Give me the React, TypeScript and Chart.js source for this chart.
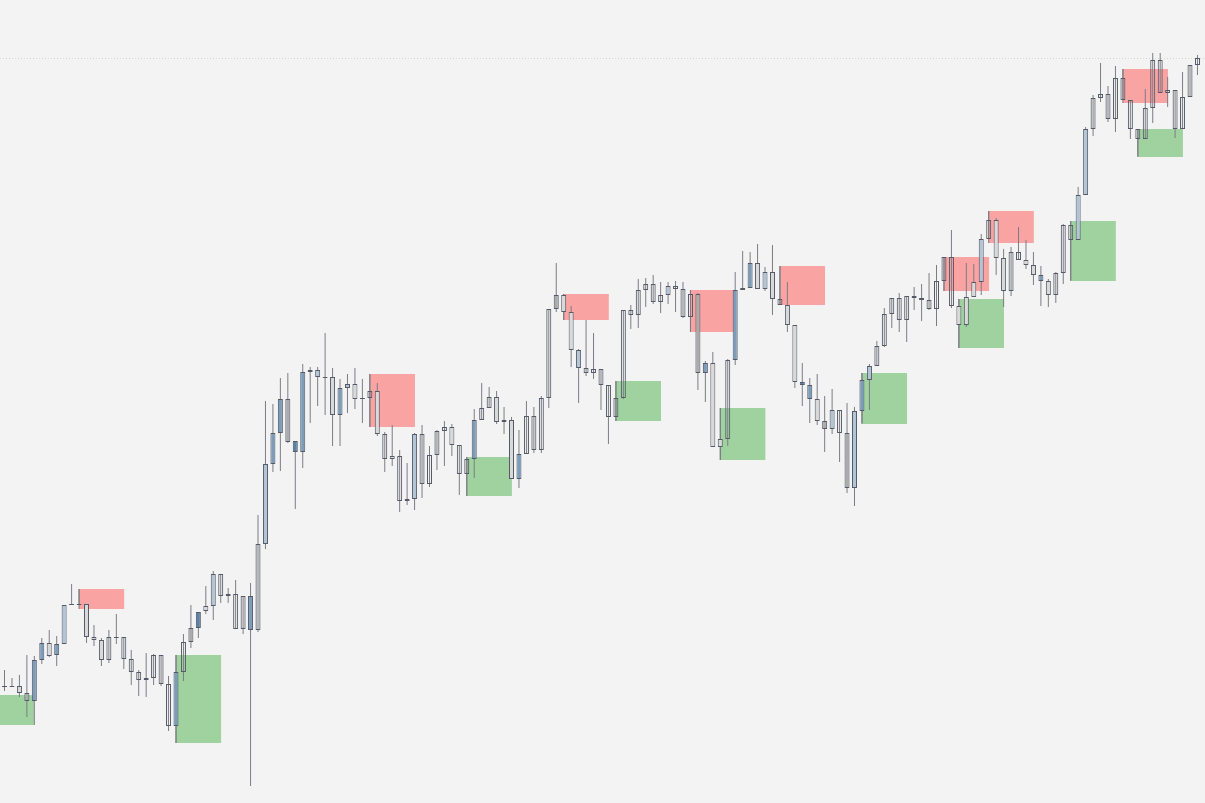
import React, { useEffect, useRef } from "react";
import { Chart, registerables } from "chart.js";

Chart.register(...registerables);

// ---- data (price units) ----
const openPrices = [
  116, 116, 117, 110, 143, 160, 160, 159, 198, 199,
  199, 199, 166, 163, 143, 165, 144, 131, 123, 123,
  125, 119, 77, 131, 131, 175, 191, 197, 229, 207,
  207, 174, 174, 207, 173, 339, 370, 404, 404, 362,
  431, 433, 433, 425, 426, 415, 419, 419, 404, 405,
  412, 344, 347, 302, 304, 369, 319, 319, 348, 372,
  376, 329, 329, 383, 383, 395, 406, 381, 383, 349,
  349, 353, 353, 405, 508, 508, 491, 453, 430, 430,
  418, 386, 386, 405, 488, 488, 513, 501, 501, 517,
  514, 486, 486, 509, 440, 440, 364, 364, 513, 515,
  540, 540, 531, 531, 498, 498, 478, 421, 418, 404,
  382, 393, 370, 370, 392, 423, 437, 437, 457, 489,
  483, 483, 505, 503, 494, 494, 522, 497, 497, 506,
  521, 564, 564, 583, 545, 512, 543, 543, 538, 528,
  522, 508, 530, 563, 608, 674, 674, 705, 684, 684,
  703, 674, 664, 664, 695, 710, 710, 674, 674, 706,
  738,
];
const closePrices = [
  117, 117, 110, 102, 102, 143, 147, 148, 159, 198,
  198, 166, 163, 143, 166, 166, 166, 144, 131, 125,
  148, 148, 119, 77, 161, 161, 175, 192, 197, 229,
  209, 209, 207, 173, 259, 259, 339, 370, 361, 351,
  351, 431, 426, 426, 388, 388, 415, 404, 405, 412,
  369, 369, 344, 347, 302, 304, 369, 348, 372, 376,
  358, 358, 344, 344, 395, 406, 381, 383, 324, 324,
  387, 387, 405, 494, 494, 491, 453, 435, 435, 434,
  434, 418, 405, 493, 493, 513, 519, 519, 508, 508,
  517, 514, 509, 430, 430, 356, 356, 443, 443, 513,
  515, 514, 514, 504, 504, 478, 421, 418, 404, 382,
  374, 374, 393, 315, 315, 392, 423, 457, 489, 505,
  505, 507, 507, 505, 503, 522, 546, 546, 478, 478,
  506, 521, 583, 545, 512, 551, 551, 538, 528, 522,
  508, 530, 578, 578, 563, 608, 705, 709, 709, 725,
  725, 703, 674, 695, 743, 743, 713, 713, 706, 738,
  745,
];
const highPrices = [
  133, 125, 128, 148, 147, 165, 173, 167, 198, 219,
  214, 199, 178, 165, 173, 189, 166, 153, 133, 150,
  149, 148, 127, 148, 169, 198, 191, 217, 232, 229,
  215, 223, 207, 220, 288, 402, 399, 425, 430, 362,
  439, 436, 436, 470, 435, 424, 429, 435, 424, 429,
  420, 371, 378, 353, 340, 370, 378, 357, 373, 382,
  379, 358, 346, 394, 420, 416, 412, 396, 386, 373,
  402, 396, 407, 494, 540, 509, 497, 454, 483, 470,
  434, 418, 422, 493, 498, 524, 525, 528, 521, 521,
  522, 521, 513, 510, 442, 451, 395, 444, 531, 552,
  551, 559, 536, 558, 537, 521, 478, 440, 425, 429,
  407, 414, 393, 400, 396, 430, 439, 462, 495, 505,
  510, 507, 516, 519, 530, 538, 546, 573, 504, 540,
  539, 569, 592, 585, 554, 556, 576, 563, 551, 537,
  524, 531, 579, 582, 616, 676, 708, 740, 717, 737,
  734, 703, 674, 714, 750, 750, 726, 713, 731, 738,
  748,
];
const lowPrices = [
  112, 116, 106, 86, 78, 139, 146, 137, 159, 198,
  198, 160, 157, 137, 140, 159, 134, 118, 107, 106,
  118, 117, 72, 60, 122, 155, 165, 189, 183, 200,
  200, 174, 169, 17, 171, 254, 331, 332, 360, 294,
  335, 380, 397, 388, 357, 357, 390, 394, 380, 376,
  367, 331, 337, 291, 298, 293, 305, 316, 333, 337,
  347, 308, 307, 325, 383, 395, 379, 369, 324, 315,
  349, 350, 350, 395, 491, 483, 436, 400, 427, 424,
  393, 359, 382, 404, 474, 475, 496, 499, 490, 499,
  491, 485, 472, 413, 401, 356, 343, 357, 438, 513,
  515, 514, 512, 488, 498, 471, 415, 397, 380, 378,
  351, 369, 341, 310, 297, 380, 393, 437, 456, 475,
  471, 461, 493, 482, 493, 477, 512, 495, 455, 476,
  506, 508, 564, 528, 496, 507, 543, 534, 518, 497,
  496, 500, 519, 523, 563, 608, 667, 701, 681, 671,
  703, 664, 647, 664, 680, 710, 696, 665, 674, 706,
  728,
];
// body shade per candle: W hollow, L light grey, G grey, B steel blue, D dark blue, P pale blue
const bodyShade = (
  "WWLGBBLBPD" + "DLLLWWWWWW" + "WWWBWGDLPW" + "WWWBWPBBGD" +
  "BPPWLBPLWW" + "LWLWLPWWWW" + "LWWBWWLWLB" + "WWWWGLLPWW" +
  "WWWWWWWWWP" + "WWWGBLLWBP" + "BLPLWLLDBL" + "GPWGPBPWWW" +
  "WWWWWWWWLL" + "LPWLLWWLLB" + "LWWWPPWWWW" + "WWWWWWWWWW" + "W"
).split("");

// supply (S) / demand (D) zones: start candle, low, high
const zoneKind = ["D", "S", "D", "S", "D", "S", "D", "S", "D", "S", "D", "S", "D", "S", "D", "S", "D"];
const zoneStart = [-2.1, 10, 23, 49, 62, 75, 82, 92, 96, 104, 115, 126, 128, 132, 143, 150, 152];
const zoneLow = [78, 194, 60, 376, 307, 483, 382, 471, 343, 498, 379, 512, 455, 560, 522, 700, 646];
const zoneHigh = [108, 214, 148, 429, 346, 509, 422, 513, 395, 537, 430, 546, 504, 592, 582, 734, 674];
const zoneLength = 6.05;

const resistanceLevel = 744.5;

// ---- styles ----
const BG = "#f3f3f3";
const BORDER = "#565a68";
const WICK = "#7c7c84";
const SHADES: Record<string, string> = {
  W: "rgba(0,0,0,0)",
  L: "#d9d9d9",
  G: "#ababab",
  B: "#7b9dba",
  D: "#5a82a6",
  P: "#b1c5d5",
};
const ZONE_COLORS: Record<string, string> = { S: "#f9a3a3", D: "#a0d2a0" };

const X_MIN = -0.6035;
const X_MAX = 161.01;

const zonePlugin = {
  id: "zones",
  beforeDatasetsDraw(chart: any) {
    const { ctx, scales } = chart;
    const xs = scales.x;
    const ys = scales.y;
    ctx.save();
    for (let k = 0; k < zoneStart.length; k++) {
      const x0 = xs.getPixelForValue(zoneStart[k]);
      const x1 = xs.getPixelForValue(zoneStart[k] + zoneLength);
      const yTop = ys.getPixelForValue(zoneHigh[k]);
      const yBot = ys.getPixelForValue(zoneLow[k]);
      ctx.fillStyle = ZONE_COLORS[zoneKind[k]];
      ctx.fillRect(x0, yTop, x1 - x0, yBot - yTop);
      ctx.fillStyle = WICK;
      ctx.fillRect(x0 - 0.5, yTop, 1, yBot - yTop);
    }
    ctx.restore();
  },
};

export default function App() {
  const canvasRef = useRef<HTMLCanvasElement | null>(null);

  useEffect(() => {
    document.body.style.margin = "0";
    document.body.style.background = BG;
    const canvas = canvasRef.current;
    if (!canvas) return;

    const bodies = openPrices.map((o, i) => ({ x: i, y: [o, closePrices[i]] }));
    const wicks = lowPrices.map((l, i) => ({ x: i, y: [l, highPrices[i]] }));

    const chart = new Chart(canvas, {
      type: "bar",
      data: {
        datasets: [
          {
            type: "bar",
            label: "body",
            data: bodies as any,
            backgroundColor: bodyShade.map((c) => SHADES[c]),
            borderColor: BORDER,
            borderWidth: 1,
            borderSkipped: false,
            barThickness: 5,
            grouped: false,
            inflateAmount: 0,
            order: 0,
          } as any,
          {
            type: "bar",
            label: "wick",
            data: wicks as any,
            backgroundColor: WICK,
            borderWidth: 0,
            barThickness: 1,
            grouped: false,
            inflateAmount: 0,
            order: 1,
          } as any,
          {
            type: "line",
            label: "level",
            data: [
              { x: X_MIN, y: resistanceLevel },
              { x: X_MAX, y: resistanceLevel },
            ],
            borderColor: "#d4d4d4",
            borderWidth: 1,
            borderDash: [1, 2],
            pointRadius: 0,
            order: 2,
          } as any,
        ],
      },
      options: {
        animation: false,
        responsive: false,
        maintainAspectRatio: false,
        layout: { padding: 0 },
        plugins: {
          legend: { display: false },
          tooltip: { enabled: false },
          title: { display: false },
        },
        events: [],
        scales: {
          x: { type: "linear", display: false, min: X_MIN, max: X_MAX, offset: false },
          y: { type: "linear", display: false, min: 0, max: 803 },
        },
      } as any,
      plugins: [zonePlugin],
    });

    return () => chart.destroy();
  }, []);

  return (
    <div
      style={{
        position: "fixed",
        left: 0,
        top: 0,
        width: "1205px",
        height: "803px",
        background: BG,
      }}
    >
      <canvas ref={canvasRef} width={1205} height={803} style={{ display: "block" }} />
    </div>
  );
}
